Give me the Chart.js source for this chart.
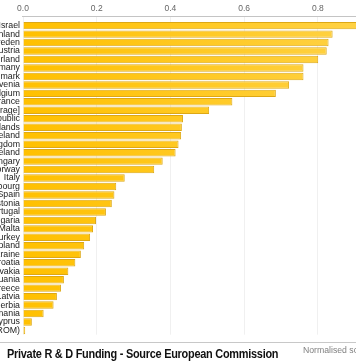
<!DOCTYPE html>
<html><head><meta charset="utf-8">
<script src="https://cdn.jsdelivr.net/npm/chart.js@4"></script>
<style>
html,body{margin:0;padding:0;background:#fff;}
#wrap{position:relative;width:356px;height:364px;overflow:hidden;background:#fff;}
#cv{position:absolute;left:-100px;top:0;}
#rule{position:absolute;left:0;top:342px;width:356px;height:1px;background:#c8c8c8;}
#title{position:absolute;left:7px;top:347px;font:bold 12.5px "Liberation Sans",Arial,sans-serif;color:#111;white-space:nowrap;letter-spacing:-0.3px;transform:scaleX(0.875);transform-origin:0 0;}
#xtitle{position:absolute;left:303px;top:345px;font:8.7px "Liberation Sans",Arial,sans-serif;color:#808080;white-space:nowrap;}
</style></head>
<body>
<div id="wrap">
<canvas id="cv" width="500" height="343"></canvas>
<div id="rule"></div>
<div id="title">Private R &amp; D Funding - Source European Commission</div>
<div id="xtitle">Normalised score</div>
</div>
<script>
const countries = ["Israel","Finland","Sweden","Austria","Switzerland","Germany","Denmark","Slovenia","Belgium","France","[EU Average]","Czech Republic","Netherlands","Iceland","United Kingdom","Ireland","Hungary","Norway","Italy","Luxembourg","Spain","Estonia","Portugal","Bulgaria","Malta","Turkey","Poland","Ukraine","Croatia","Slovakia","Lithuania","Greece","Latvia","Serbia","Romania","Cyprus","Macedonia (FYROM)"];
const scores = [0.93,0.840,0.829,0.824,0.801,0.761,0.761,0.722,0.686,0.568,0.505,0.434,0.431,0.429,0.422,0.414,0.379,0.356,0.276,0.253,0.248,0.241,0.225,0.198,0.190,0.182,0.166,0.157,0.142,0.123,0.111,0.103,0.092,0.083,0.056,0.024,0.006];
const xTicks = [0,0.2,0.4,0.6,0.8,1.0];

let grad = null;
function barFill(ctx){
  const ch = ctx.chart, a = ch.chartArea;
  if(!a) return '#FFC400';
  if(!grad){
    grad = ch.ctx.createLinearGradient(a.left,0,a.left+340,0);
    grad.addColorStop(0,'#FFC000');
    grad.addColorStop(1,'#FFD245');
  }
  return grad;
}
const topLine = {
  id:'topLine',
  beforeDatasetsDraw(chart){
    const c = chart.ctx, a = chart.chartArea;
    c.save(); c.strokeStyle='#c4c4c4'; c.lineWidth=1;
    c.beginPath(); c.moveTo(a.left-1, Math.round(a.top-5)+0.5); c.lineTo(a.right, Math.round(a.top-5)+0.5); c.stroke();
    c.restore();
  }
};
new Chart(document.getElementById('cv'), {
  type:'bar',
  data:{labels:countries, datasets:[{data:scores, backgroundColor:barFill, borderColor:'#DDA815', borderWidth:1, barPercentage:0.88, categoryPercentage:1}]},
  options:{
    indexAxis:'y', responsive:false, animation:false,
    layout:{padding:{top:0,right:3,bottom:3.4,left:0}},
    plugins:{legend:{display:false}, tooltip:{enabled:false}},
    scales:{
      x:{position:'top', min:0, max:1,
        afterBuildTicks(s){ s.ticks = xTicks.map(v=>({value:v})); },
        afterFit(s){ s.height = 21.4; },
        ticks:{padding:2.5, color:'#666', font:{family:'"Liberation Sans", Arial, sans-serif', size:8.5}, callback:v=>Number(v).toFixed(1)},
        grid:{color:'rgba(0,0,0,0.06)', drawTicks:true, tickLength:5},
        border:{display:false}},
      y:{afterFit(s){ s.width = 123; },
        ticks:{padding:3, color:'#222', font:{family:'"Liberation Sans", Arial, sans-serif', size:8.8}, autoSkip:false},
        grid:{display:false, drawTicks:false}, border:{display:false}}
    }
  },
  plugins:[topLine]
});
</script>
</body></html>
